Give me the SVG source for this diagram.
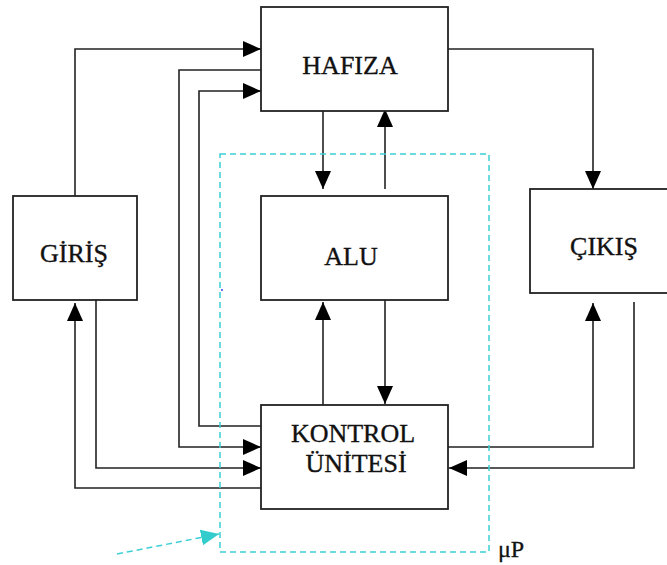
<svg xmlns="http://www.w3.org/2000/svg" width="667" height="565" viewBox="0 0 667 565">
<style>
.box{fill:#fff;stroke:#222;stroke-width:1.8}
.ln{fill:none;stroke:#222;stroke-width:1.6}
.lbl{font-size:26px;fill:#111;stroke:#111;stroke-width:0.35;text-anchor:middle}
.dash{fill:none;stroke:#3ccfd6;stroke-width:1.5;stroke-dasharray:6,4}
</style>
<defs>
<marker id="ar" markerUnits="userSpaceOnUse" markerWidth="18" markerHeight="16" refX="18" refY="8" orient="auto">
<path d="M0,0 L18,8 L0,16 z" fill="#000"/>
</marker>
<marker id="arc" markerUnits="userSpaceOnUse" markerWidth="18" markerHeight="16" refX="18" refY="8" orient="auto">
<path d="M0,0 L18,8 L0,16 z" fill="#33cccc"/>
</marker>
</defs>
<rect width="667" height="565" fill="#fff"/>
<g id="connectors">
<path class="ln" d="M75,196 V49 H261" marker-end="url(#ar)"/>
<path class="ln" d="M261,70 H179 V447 H261" marker-end="url(#ar)"/>
<path class="ln" d="M261,426 H199 V91 H261" marker-end="url(#ar)"/>
<path class="ln" d="M323,106 V189" marker-end="url(#ar)"/>
<path class="ln" d="M385,189 V109" marker-end="url(#ar)"/>
<path class="ln" d="M448,49 H593 V189" marker-end="url(#ar)"/>
<path class="ln" d="M323,405 V302" marker-end="url(#ar)"/>
<path class="ln" d="M385,300 V404" marker-end="url(#ar)"/>
<path class="ln" d="M448,447 H593 V303" marker-end="url(#ar)"/>
<path class="ln" d="M634,302 V468 H449" marker-end="url(#ar)"/>
<path class="ln" d="M261,488 H75 V303" marker-end="url(#ar)"/>
<path class="ln" d="M96,300 V468 H261" marker-end="url(#ar)"/>
<path class="dash" d="M117,554 L219,534" marker-end="url(#arc)"/>
</g>
<g font-family="Liberation Serif, Times New Roman, serif">
<g id="hafiza"><rect class="box" x="261" y="7" width="187" height="104"/><text class="lbl" x="350" y="74">HAFIZA</text></g>
<g id="alu"><rect class="box" x="261" y="196" width="187" height="104"/><text class="lbl" x="351" y="265">ALU</text></g>
<g id="giris"><rect class="box" x="13" y="196" width="124" height="104"/><text class="lbl" x="74" y="262">GİRİŞ</text></g>
<g id="cikis"><rect class="box" x="530" y="189" width="140" height="104"/><text class="lbl" x="604" y="255">ÇIKIŞ</text></g>
<g id="kontrol"><rect class="box" x="261" y="405" width="187" height="104"/><text class="lbl" x="353" y="442">KONTROL</text><text class="lbl" x="356" y="472">ÜNİTESİ</text></g>
<g id="mp"><rect class="dash" x="220" y="154" width="269" height="398"/><circle cx="222" cy="290" r="1" fill="#3344ee"/><text x="498" y="557" font-size="24" fill="#111" stroke="#111" stroke-width="0.3">μP</text></g>
</g>
</svg>
